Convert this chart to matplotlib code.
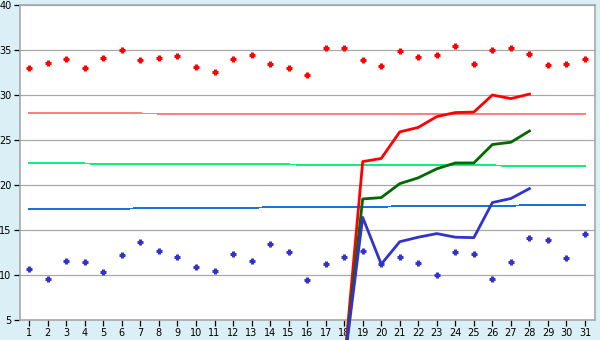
import matplotlib
matplotlib.use("Agg")
import matplotlib.pyplot as plt
import numpy as np

days = list(range(1, 32))
high_pts = [33.0, 33.6, 34.0, 33.0, 34.1, 35.0, 33.9, 34.1, 34.3, 33.1,
            32.6, 34.0, 34.4, 33.5, 33.0, 32.2, 35.2, 35.2, 33.9, 33.2,
            34.9, 34.2, 34.4, 35.4, 33.4, 35.0, 35.2, 34.6, 33.3, 33.4, 34.0]
low_pts = [10.7, 9.6, 11.6, 11.5, 10.3, 12.2, 13.7, 12.7, 12.0, 10.9,
           10.4, 12.3, 11.6, 13.4, 12.6, 9.4, 11.2, 12.0, 12.7, 11.2,
           12.0, 11.3, 10.0, 12.6, 12.3, 9.6, 11.5, 14.1, 13.9, 11.9, 14.6]

trend_days = [1, 31]
trend_high = [27.97, 27.85]
trend_mid = [22.42, 22.12]
trend_low = [17.30, 17.78]

run_days = [18, 19, 20, 21, 22, 23, 24, 25, 26, 27, 28]
run_high = [0.0, 22.6, 22.95, 25.9, 26.4, 27.6, 28.05, 28.1, 30.0, 29.6, 30.1]
run_mid = [0.0, 18.45, 18.6, 20.15, 20.8, 21.8, 22.45, 22.45, 24.5, 24.75, 26.0]
run_low = [0.0, 16.4, 11.2, 13.7, 14.2, 14.6, 14.2, 14.15, 18.05, 18.5, 19.6]

yticks = [5, 10, 15, 20, 25, 30, 35, 40]

bg = "#DAEFF6"
fig = plt.figure(figsize=(6.0, 3.4), dpi=100, facecolor=bg)
ax = fig.add_axes([20/600, 20/340, 575/600, 315/340])
ax.set_facecolor("white")

ax.set_xlim(0.5, 31.54)
ax.set_ylim(5, 40)
ax.set_yticks(yticks)
ax.set_xticks(days)
ax.grid(axis="y", color="#A8A8A8", linewidth=0.9)
ax.set_axisbelow(True)
for s in ax.spines.values():
    s.set_color("#A8A8A8")
    s.set_linewidth(1.2)
ax.tick_params(axis="both", labelsize=7, length=4, width=0.9, color="black", pad=2)

ax.plot(trend_days, trend_high, color="#FF8080", lw=0.7, antialiased=False)
ax.plot(trend_days, trend_mid, color="#11EE80", lw=0.7, antialiased=False)
ax.plot(trend_days, trend_low, color="#1874D8", lw=0.7, antialiased=False)

ax.plot(run_days, run_high, color="#FF0000", lw=2.0, clip_on=False, zorder=3)
ax.plot(run_days, run_mid, color="#006A00", lw=2.0, clip_on=False, zorder=3)
ax.plot(run_days, run_low, color="#3333CC", lw=2.0, clip_on=False, zorder=3)

ax.plot(days, high_pts, linestyle="none", marker="+", markersize=5,
        color="#FF0000", markeredgewidth=2.2, zorder=4)
ax.plot(days, low_pts, linestyle="none", marker="+", markersize=5,
        color="#3333CC", markeredgewidth=2.2, zorder=4)

fig.savefig("out.png", dpi=100, facecolor=bg)
